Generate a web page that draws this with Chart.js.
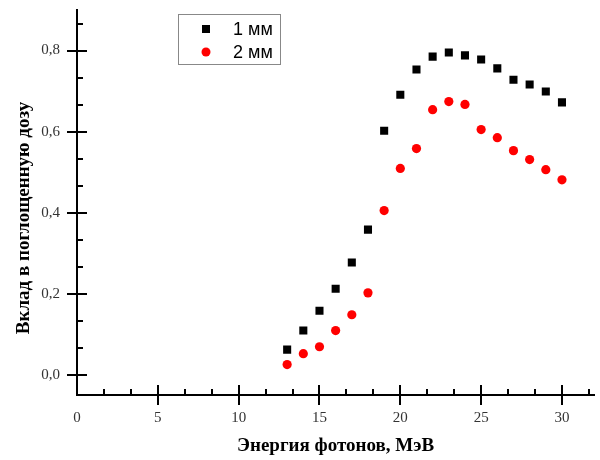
<!DOCTYPE html>
<html lang="ru">
<head>
  <meta charset="UTF-8" />
  <title>Вклад в поглощенную дозу</title>
  <script src="https://cdn.jsdelivr.net/npm/chart.js"></script>
  <style>
    body { margin: 0; padding: 0; background: #fff; }
    .chart-wrapper { width: 600px; height: 460px; position: relative; }
  </style>
</head>
<body>
  <div class="chart-wrapper">
    <canvas id="chartDoza"></canvas>
  </div>

  <script>
    // данные
    const energy = [13, 14, 15, 16, 17, 18, 19, 20, 21, 22, 23, 24, 25, 26, 27, 28, 29, 30];
    const dose1mm = [0.062, 0.109, 0.158, 0.212, 0.277, 0.358, 0.602, 0.691, 0.753, 0.785, 0.795, 0.788, 0.778, 0.756, 0.728, 0.716, 0.699, 0.672];
    const dose2mm = [0.025, 0.052, 0.069, 0.109, 0.148, 0.202, 0.405, 0.509, 0.558, 0.654, 0.674, 0.667, 0.605, 0.585, 0.553, 0.531, 0.506, 0.481];
    const seriesLabels = ['1 мм', '2 мм'];
    const xTicks = [0, 5, 10, 15, 20, 25, 30];
    const yTicks = [0, 0.2, 0.4, 0.6, 0.8];
    const yTitle = 'Вклад в поглощенную дозу';

    const toPoints = (ys) => ys.map((v, i) => ({ x: energy[i], y: v }));
    const serif = "'Liberation Serif', 'DejaVu Serif', serif";

    // убираем лишние отступы, которые Chart.js добавляет под подписи
    const noPad = (s) => { s.paddingTop = 0; s.paddingBottom = 0; s.paddingLeft = 0; s.paddingRight = 0; };

    // засечки, пересекающие оси, промежуточные засечки, подпись оси Y и легенда
    const axisTicks = {
      id: 'axisTicks',
      afterDraw(chart) {
        const { ctx, chartArea: a, scales: { x, y } } = chart;
        ctx.save();
        ctx.strokeStyle = '#000';
        ctx.lineWidth = 2;
        ctx.beginPath();
        for (let i = 1; i * 5 / 3 <= x.max + 1e-9; i++) {
          const px = Math.round(x.getPixelForValue(i * 5 / 3));
          if (i % 3 === 0) {
            ctx.moveTo(px, a.bottom - 10); ctx.lineTo(px, a.bottom + 10);
          } else {
            ctx.moveTo(px, a.bottom - 6); ctx.lineTo(px, a.bottom);
          }
        }
        for (let i = 0; i * 0.2 / 3 <= y.max + 1e-9; i++) {
          const py = Math.round(y.getPixelForValue(i * 0.2 / 3));
          if (i % 3 === 0) {
            ctx.moveTo(a.left - 10, py); ctx.lineTo(a.left + 10, py);
          } else {
            ctx.moveTo(a.left, py); ctx.lineTo(a.left + 6, py);
          }
        }
        ctx.stroke();

        // подпись оси Y
        ctx.save();
        ctx.translate(24, 218);
        ctx.rotate(-Math.PI / 2);
        ctx.fillStyle = '#000';
        ctx.font = 'bold 19px ' + serif;
        ctx.textAlign = 'center';
        ctx.textBaseline = 'middle';
        ctx.fillText(yTitle, 0, 0);
        ctx.restore();

        // легенда
        const bx = 178, by = 14, bw = 102, bh = 50;
        ctx.lineWidth = 1;
        ctx.strokeStyle = '#888';
        ctx.strokeRect(bx + 0.5, by + 0.5, bw, bh);
        ctx.font = "18px 'Liberation Sans', Arial, sans-serif";
        ctx.textBaseline = 'middle';
        ctx.textAlign = 'left';
        chart.data.datasets.forEach((ds, i) => {
          const cy = by + 15 + i * 23;
          ctx.fillStyle = ds.backgroundColor;
          ctx.beginPath();
          if (ds.pointStyle === 'rect') {
            ctx.rect(bx + 24, cy - 4, 8, 8);
          } else {
            ctx.arc(bx + 28, cy, 4.5, 0, Math.PI * 2);
          }
          ctx.fill();
          ctx.fillStyle = '#000';
          ctx.fillText(ds.label, bx + 55, cy + 1);
        });
        ctx.restore();
      }
    };

    const ctx = document.getElementById('chartDoza').getContext('2d');
    const chart = new Chart(ctx, {
      type: 'scatter',
      data: {
        datasets: [
          {
            label: seriesLabels[0],
            data: toPoints(dose1mm),
            pointStyle: 'rect',
            pointRadius: 5.7,
            borderWidth: 0,
            backgroundColor: '#000000',
            borderColor: '#000000'
          },
          {
            label: seriesLabels[1],
            data: toPoints(dose2mm),
            pointStyle: 'circle',
            pointRadius: 4.6,
            borderWidth: 0,
            backgroundColor: '#ff0000',
            borderColor: '#ff0000'
          }
        ]
      },
      options: {
        responsive: true,
        maintainAspectRatio: false,
        animation: false,
        layout: { padding: { top: 10, right: 1, left: 0, bottom: 0 } },
        plugins: {
          legend: { display: false },
          tooltip: { enabled: false }
        },
        scales: {
          x: {
            type: 'linear',
            min: 0,
            max: 32,
            afterFit: (s) => { s.height = 65; noPad(s); },
            afterBuildTicks: (s) => { s.ticks = xTicks.map(v => ({ value: v })); },
            grid: { display: false, drawTicks: false },
            border: { display: true, color: '#000', width: 2 },
            ticks: {
              padding: 14,
              color: '#333',
              font: { family: serif, size: 15 }
            },
            title: {
              display: true,
              text: 'Энергия фотонов, МэВ',
              color: '#000',
              font: { family: serif, size: 19, weight: 'bold' },
              padding: { top: 0, bottom: 3 }
            }
          },
          y: {
            type: 'linear',
            min: -0.05,
            max: 0.9,
            afterFit: (s) => { s.width = 77; noPad(s); },
            afterBuildTicks: (s) => { s.ticks = yTicks.map(v => ({ value: v })); },
            grid: { display: false, drawTicks: false },
            border: { display: true, color: '#000', width: 2 },
            ticks: {
              padding: 17,
              color: '#333',
              font: { family: serif, size: 15 },
              callback: (v) => v.toFixed(1).replace('.', ',')
            },
            title: { display: false }
          }
        }
      },
      plugins: [axisTicks]
    });
  </script>
</body>
</html>
